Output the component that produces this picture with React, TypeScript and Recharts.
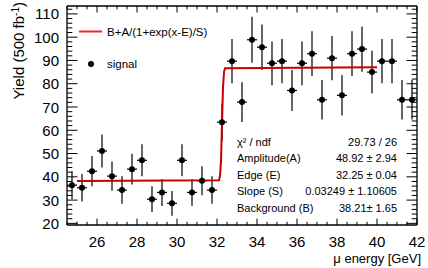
import {
  ComposedChart,
  Scatter,
  Line,
  XAxis,
  YAxis,
  ErrorBar,
} from "recharts";

// bin centres (GeV)
const energy = [
  24.75, 25.25, 25.75, 26.25, 26.75, 27.25, 27.75, 28.25, 28.75, 29.25, 29.75,
  30.25, 30.75, 31.25, 31.75, 32.25, 32.75, 33.25, 33.75, 34.25, 34.75, 35.25,
  35.75, 36.25, 36.75, 37.25, 37.75, 38.25, 38.75, 39.25, 39.75, 40.25, 40.75,
  41.25, 41.75,
];
const yieldValues = [
  36.4, 35.3, 42.4, 51.1, 40.3, 34.3, 43.3, 47.1, 30.4, 33.3, 28.6, 47.1, 33.3,
  38.3, 34.3, 63.5, 89.7, 72.1, 98.9, 95.7, 88.8, 89.7, 77.1, 88.8, 92.9, 73.1,
  91.0, 75.0, 92.9, 94.9, 85.0, 89.7, 89.7, 73.1, 73.1,
];
const yieldErrors = [
  6.0, 5.9, 6.5, 7.1, 6.3, 5.9, 6.6, 6.9, 5.5, 5.8, 5.3, 6.9, 5.8, 6.2, 5.9,
  8.0, 9.5, 8.5, 9.9, 9.8, 9.4, 9.5, 8.8, 9.4, 9.6, 8.5, 9.5, 8.7, 9.6, 9.7,
  9.2, 9.5, 9.5, 8.5, 8.5,
];
const binHalfWidth = 0.25;

// fitted curve
const fitX = [25, 32.1, 32.15, 32.2, 32.25, 32.3, 32.35, 32.4, 40];
const fitY = [38.21, 38.5, 40.4, 46.8, 62.7, 78.5, 85.0, 86.7, 87.13];

const xMajorTicks = [26, 28, 30, 32, 34, 36, 38, 40, 42];
const yMajorTicks = [20, 30, 40, 50, 60, 70, 80, 90, 100, 110];

const statsLabels = [
  "χ² / ndf",
  "Amplitude(A)",
  "Edge (E)",
  "Slope (S)",
  "Background (B)",
];
const statsValues = [
  "29.73 / 26",
  "48.92 ± 2.94",
  "32.25 ± 0.04",
  "0.03249 ± 1.10605",
  "38.21± 1.65",
];

const points = energy.map((x, i) => ({
  x,
  y: yieldValues[i],
  ey: yieldErrors[i],
  ex: binHalfWidth,
}));
const fitData = fitX.map((x, i) => ({ x, y: fitY[i] }));

const xTicks: number[] = [];
for (let v = 24.5; v <= 42; v += 0.5) xTicks.push(v);
const yTicks: number[] = [];
for (let v = 20; v <= 112; v += 2) yTicks.push(v);

const FONT = "'Liberation Sans', Arial, Helvetica, sans-serif";

const BottomTick = (props: any) => {
  const { x, y, payload } = props;
  const major = xMajorTicks.includes(payload.value);
  return (
    <g>
      <line x1={x} x2={x} y1={y} y2={y - (major ? 6.5 : 3.3)} stroke="#000" />
      {major && (
        <text x={x} y={y + 22} textAnchor="middle" fontSize={15} fontFamily={FONT} fill="#000">
          {payload.value}
        </text>
      )}
    </g>
  );
};

const TopTick = (props: any) => {
  const { x, y, payload } = props;
  const major = xMajorTicks.includes(payload.value);
  return <line x1={x} x2={x} y1={y} y2={y + (major ? 6.5 : 3.3)} stroke="#000" />;
};

const LeftTick = (props: any) => {
  const { x, y, payload } = props;
  const major = yMajorTicks.includes(payload.value);
  return (
    <g>
      <line x1={x} x2={x + (major ? 10.5 : 5.3)} y1={y} y2={y} stroke="#000" />
      {major && (
        <text x={x - 8} y={y + 5.5} textAnchor="end" fontSize={15} fontFamily={FONT} fill="#000">
          {payload.value}
        </text>
      )}
    </g>
  );
};

const RightTick = (props: any) => {
  const { x, y, payload } = props;
  const major = yMajorTicks.includes(payload.value);
  return <line x1={x} x2={x - (major ? 10.5 : 5.3)} y1={y} y2={y} stroke="#000" />;
};

const Dot = (props: any) => <circle cx={props.cx} cy={props.cy} r={3} fill="#000" />;

export default function App() {
  return (
    <div style={{ position: "absolute", left: 0, top: 0, background: "#fff" }}>
      <ComposedChart
        width={428}
        height={268}
        margin={{ top: 5, right: 10, bottom: 42, left: 66 }}
      >
        <XAxis
          xAxisId="bottom"
          type="number"
          dataKey="x"
          domain={[24.5, 42]}
          ticks={xTicks}
          interval={0}
          height={1}
          tickSize={0}
          tickMargin={0}
          tickLine={false}
          tick={<BottomTick />}
          axisLine={{ stroke: "#000", strokeWidth: 1.3 }}
          allowDataOverflow
        />
        <XAxis
          xAxisId="top"
          orientation="top"
          type="number"
          dataKey="x"
          domain={[24.5, 42]}
          ticks={xTicks}
          interval={0}
          height={1}
          tickSize={0}
          tickMargin={0}
          tickLine={false}
          tick={<TopTick />}
          axisLine={{ stroke: "#000", strokeWidth: 1.3 }}
          allowDataOverflow
        />
        <YAxis
          yAxisId="left"
          type="number"
          domain={[19.3, 113.4]}
          ticks={yTicks}
          interval={0}
          width={1}
          tickSize={0}
          tickMargin={0}
          tickLine={false}
          tick={<LeftTick />}
          axisLine={{ stroke: "#000", strokeWidth: 1.3 }}
          allowDataOverflow
        />
        <YAxis
          yAxisId="right"
          orientation="right"
          type="number"
          domain={[19.3, 113.4]}
          ticks={yTicks}
          interval={0}
          width={1}
          tickSize={0}
          tickMargin={0}
          tickLine={false}
          tick={<RightTick />}
          axisLine={{ stroke: "#000", strokeWidth: 1.3 }}
          allowDataOverflow
        />
        <Scatter
          xAxisId="bottom"
          yAxisId="left"
          data={points}
          dataKey="y"
          shape={<Dot />}
          isAnimationActive={false}
        >
          <ErrorBar dataKey="ey" direction="y" width={0} stroke="#000" strokeWidth={1.2} />
          <ErrorBar dataKey="ex" direction="x" width={0} stroke="#000" strokeWidth={1.2} />
        </Scatter>
        <Line
          xAxisId="bottom"
          yAxisId="left"
          data={fitData}
          dataKey="y"
          type="linear"
          stroke="#c80000"
          strokeWidth={2}
          dot={false}
          activeDot={false}
          isAnimationActive={false}
        />

        {/* legend */}
        <g fontFamily={FONT} fill="#000">
          <line x1={79} x2={102} y1={31.5} y2={31.5} stroke="#ff2020" strokeWidth={2} />
          <text x={107} y={36} fontSize={11.5}>B+A/(1+exp(x-E)/S)</text>
          <circle cx={91} cy={64} r={3} fill="#000" />
          <text x={107} y={68} fontSize={11.5}>signal</text>
        </g>

        {/* fit statistics */}
        <g fontFamily={FONT} fill="#000" fontSize={11}>
          {statsLabels.map((s, i) => (
            <text key={s} x={237} y={145.5 + i * 16.6}>{s}</text>
          ))}
          {statsValues.map((s, i) => (
            <text key={s} x={397} y={145.5 + i * 16.6} textAnchor="end">{s}</text>
          ))}
        </g>

        {/* axis titles */}
        <text x={421} y={263} textAnchor="end" fontSize={13} fontFamily={FONT} fill="#000">
          μ energy [GeV]
        </text>
        <text
          transform="translate(24,2) rotate(-90)"
          textAnchor="end"
          fontSize={15}
          fontFamily={FONT}
          fill="#000"
        >
          Yield (500 fb<tspan dy={-5} fontSize={10}>-1</tspan>
          <tspan dy={5}>)</tspan>
        </text>
      </ComposedChart>
    </div>
  );
}
